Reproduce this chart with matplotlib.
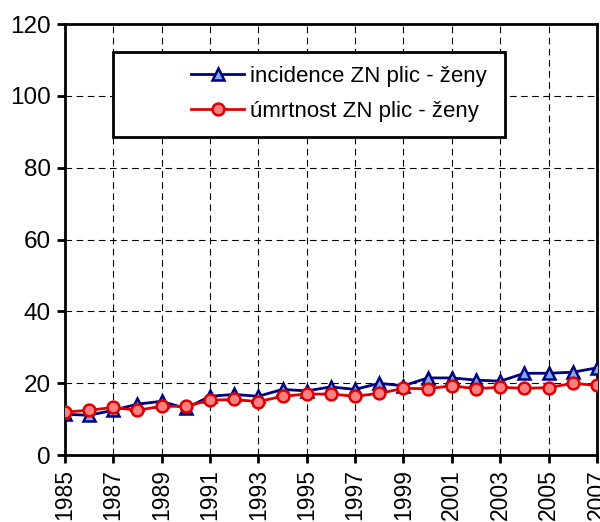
import numpy as np
import matplotlib.pyplot as plt
from matplotlib.patches import Rectangle

plt.rcParams['font.family'] = ['Liberation Sans', 'DejaVu Sans']

years = list(range(1985, 2008))
incidence = [11.4, 11.1, 12.5, 14.2, 15.0, 13.0, 16.4, 16.9, 16.4, 18.3, 17.9, 19.0,
             18.3, 20.0, 19.3, 21.5, 21.5, 20.9, 20.6, 22.8, 22.8, 23.1, 24.3]
umrtnost = [12.0, 12.5, 13.3, 12.5, 13.6, 13.6, 15.3, 15.5, 14.9, 16.4, 17.0, 17.0,
            16.4, 17.2, 18.6, 18.5, 19.3, 18.5, 18.9, 18.6, 18.8, 20.0, 19.4]

fig = plt.figure(figsize=(6.0, 5.22), dpi=100)
ax = fig.add_axes([0.108, 0.128, 0.887, 0.826])

ax.plot(years, incidence, color='#000080', lw=2, marker='^', ms=8,
        mfc='#7fa8f0', mec='#000080', mew=1.8, label='incidence ZN plic - ženy', zorder=3)
ax.plot(years, umrtnost, color='#dd0000', lw=2, marker='o', ms=8.5,
        mfc='#ff8080', mec='#dd0000', mew=1.8, label='úmrtnost ZN plic - ženy', zorder=4)

ax.set_xlim(1985, 2007)
ax.set_ylim(0, 120)
ax.set_xticks(range(1985, 2008, 2))
ax.set_yticks(range(0, 121, 20))
ax.tick_params(axis='x', labelrotation=90, labelsize=16.5, direction='out',
               length=6, width=2, pad=4)
ax.tick_params(axis='y', labelsize=17.5, direction='out', length=6, width=2, pad=4)

for y in range(20, 120, 20):
    ax.axhline(y, color='black', lw=0.8, ls=(0, (6, 4)), zorder=1)
for x in range(1987, 2007, 2):
    ax.axvline(x, color='black', lw=0.8, ls=(0, (6, 4)), zorder=1)

for s in ax.spines.values():
    s.set_linewidth(2)

# legend box (wider than its entries, as in the original)
ax.add_patch(Rectangle((0.090, 0.738), 0.737, 0.197, transform=ax.transAxes,
                       facecolor='white', edgecolor='black', lw=2, zorder=5))
leg = ax.legend(loc='center left', bbox_to_anchor=(0.238, 0.838), fontsize=16,
                frameon=False, handlelength=2.35, handletextpad=0.3,
                borderpad=0, labelspacing=0.65, borderaxespad=0)
leg.set_zorder(6)

fig.savefig('out.png', dpi=100)
